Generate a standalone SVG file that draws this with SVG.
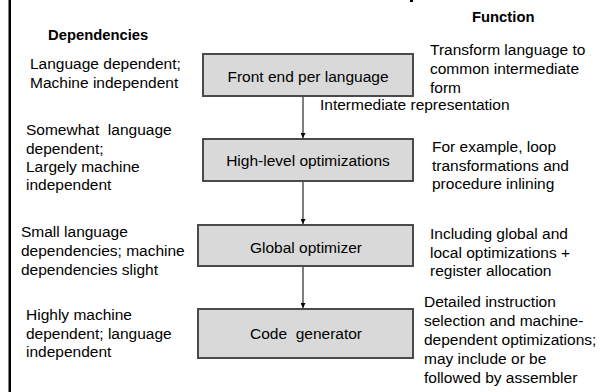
<svg xmlns="http://www.w3.org/2000/svg" width="608" height="392" viewBox="0 0 608 392">
<style>
.t{font-family:"Liberation Sans",Arial,sans-serif;font-size:15.5px;fill:#000}
.h{font-family:"Liberation Sans",Arial,sans-serif;font-size:14.8px;font-weight:bold;fill:#000}
.c{text-anchor:middle}
.box{fill:#d9d9d9;stroke:#4a4a4a;stroke-width:2}
.edge{stroke:#000;stroke-width:1;fill:none;marker-end:url(#ah)}
</style>
<defs>
<marker id="ah" viewBox="0 0 5 5" refX="5" refY="2.5" markerWidth="5" markerHeight="5" markerUnits="userSpaceOnUse" orient="auto">
<path d="M0,0 L5,2.5 L0,5 Z" fill="#000"/>
</marker>
</defs>
<rect x="0" y="0" width="608" height="392" fill="#fff"/>
<rect x="8.5" y="0" width="2.5" height="392" fill="#000"/>
<rect x="410" y="0" width="3" height="2" fill="#000"/>

<text class="h" x="48" y="40">Dependencies</text>
<text class="h" x="472" y="22">Function</text>

<g id="connectors">
<line class="edge" x1="303" y1="96" x2="303" y2="138"/>
<line class="edge" x1="303" y1="181" x2="303" y2="224"/>
<line class="edge" x1="303" y1="266" x2="303" y2="308"/>
<text class="t" x="320" y="109.5">Intermediate representation</text>
</g>

<g id="front-end">
<rect class="box" x="203" y="54" width="210" height="42"/>
<text class="t c" x="308" y="81.5">Front end per language</text>
<text class="t" x="30" y="68.5">Language dependent;</text>
<text class="t" x="30" y="87.5">Machine independent</text>
<text class="t" x="430" y="55">Transform language to</text>
<text class="t" x="430" y="74">common intermediate</text>
<text class="t" x="430" y="93">form</text>
</g>

<g id="high-level">
<rect class="box" x="203" y="139" width="210" height="42"/>
<text class="t c" x="308" y="165.5">High-level optimizations</text>
<text class="t" x="26" y="135" xml:space="preserve">Somewhat  language</text>
<text class="t" x="26" y="153.5">dependent;</text>
<text class="t" x="26" y="172">Largely machine</text>
<text class="t" x="26" y="190">independent</text>
<text class="t" x="432" y="151.5">For example, loop</text>
<text class="t" x="432" y="170.5">transformations and</text>
<text class="t" x="432" y="189">procedure inlining</text>
</g>

<g id="global-optimizer">
<rect class="box" x="198" y="225" width="215" height="41"/>
<text class="t c" x="306" y="252.5">Global optimizer</text>
<text class="t" x="21" y="237">Small language</text>
<text class="t" x="21" y="256">dependencies; machine</text>
<text class="t" x="21" y="275">dependencies slight</text>
<text class="t" x="430" y="238.5">Including global and</text>
<text class="t" x="430" y="257.5">local optimizations +</text>
<text class="t" x="430" y="276">register allocation</text>
</g>

<g id="code-generator">
<rect class="box" x="198" y="309" width="215" height="49"/>
<text class="t c" x="306" y="339" xml:space="preserve">Code  generator</text>
<text class="t" x="26" y="319.5">Highly machine</text>
<text class="t" x="26" y="338.5">dependent; language</text>
<text class="t" x="26" y="357">independent</text>
<text class="t" x="424" y="306.5">Detailed instruction</text>
<text class="t" x="424" y="325.5">selection and machine-</text>
<text class="t" x="424" y="345">dependent optimizations;</text>
<text class="t" x="424" y="363.5">may include or be</text>
<text class="t" x="424" y="382.5">followed by assembler</text>
</g>
</svg>
